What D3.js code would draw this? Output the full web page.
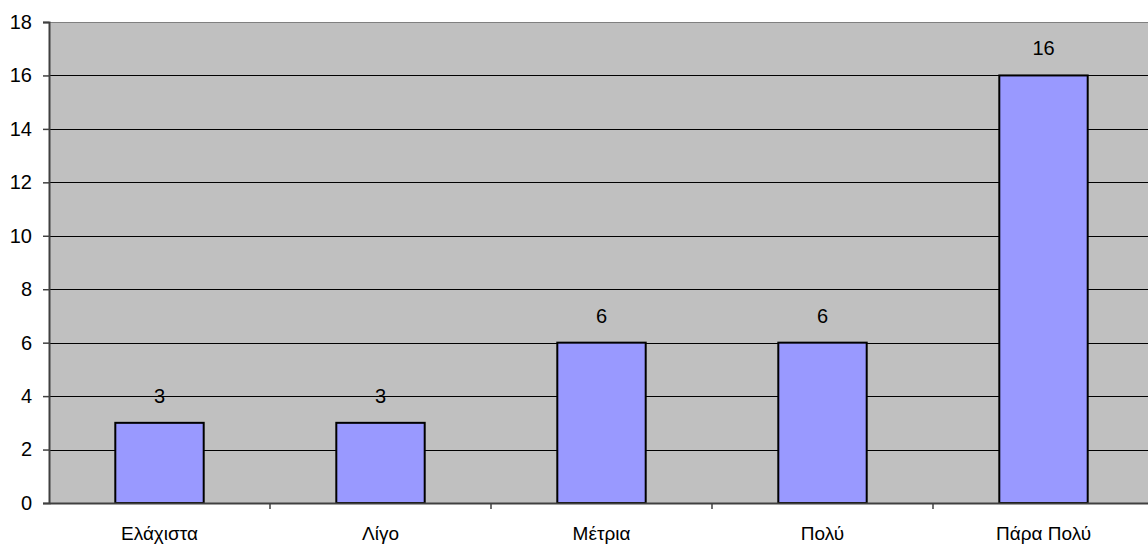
<!DOCTYPE html>
<html>
<head>
<meta charset="utf-8">
<title>Bar Chart</title>
<style>
    body { margin: 0; background: #fff; }
    svg { font-family: "Liberation Sans", Arial, sans-serif; display: block; }
</style>
</head>
<body>
<svg width="1148" height="547"></svg>
<script src="https://d3js.org/d3.v7.min.js"></script>
<script>
    var categories = ["Ελάχιστα", "Λίγο", "Μέτρια", "Πολύ", "Πάρα Πολύ"];
    var values = [3, 3, 6, 6, 16];
    var yTicks = [0, 2, 4, 6, 8, 10, 12, 14, 16, 18];

    var svg = d3.select("svg"),
        margin = {top: 22, right: -6, bottom: 44, left: 49},
        width = +svg.attr("width") - margin.left - margin.right,
        height = +svg.attr("height") - margin.top - margin.bottom;

    var x = d3.scaleBand().domain(categories).range([0, width]).paddingInner(0.6).paddingOuter(0.3);
    var xEdge = d3.scaleBand().domain(categories).range([0, width]);
    var y = d3.scaleLinear().domain([0, 18]).range([height, 0]);

    var g = svg.append("g").attr("transform", "translate(" + margin.left + "," + margin.top + ")");

    // plot background
    g.append("rect")
        .attr("width", width)
        .attr("height", height)
        .attr("fill", "#c0c0c0");

    // gridlines
    g.selectAll(".grid")
        .data(yTicks.filter(function(d) { return d > 0 && d < 18; }))
        .enter().append("line")
        .attr("x1", 0).attr("x2", width)
        .attr("y1", function(d) { return Math.round(y(d)) + 0.5; })
        .attr("y2", function(d) { return Math.round(y(d)) + 0.5; })
        .attr("stroke", "#000")
        .attr("stroke-width", 1);

    // top border
    g.append("line")
        .attr("x1", 0).attr("x2", width)
        .attr("y1", 0.5).attr("y2", 0.5)
        .attr("stroke", "#808080").attr("stroke-width", 1);

    // bars
    g.selectAll(".bar")
        .data(values)
        .enter().append("rect")
        .attr("x", function(d, i) { return x(categories[i]); })
        .attr("y", function(d) { return y(d); })
        .attr("width", x.bandwidth())
        .attr("height", function(d) { return height - y(d); })
        .attr("fill", "#9999ff")
        .attr("stroke", "#000")
        .attr("stroke-width", 2);

    // value labels
    g.selectAll(".val")
        .data(values)
        .enter().append("text")
        .attr("x", function(d, i) { return x(categories[i]) + x.bandwidth() / 2; })
        .attr("y", function(d) { return y(d) - 20; })
        .attr("text-anchor", "middle")
        .attr("font-size", 20)
        .attr("fill", "#000")
        .text(function(d) { return d; });

    // y axis
    var yAxis = g.append("g")
        .call(d3.axisLeft(y).tickValues(yTicks).tickSize(6).tickPadding(11));
    yAxis.select(".domain").attr("stroke", "#404040").attr("stroke-width", 2);
    yAxis.selectAll(".tick line").attr("stroke", "#404040").attr("stroke-width", 1.5);
    yAxis.selectAll(".tick text").attr("font-size", 20).attr("fill", "#000").attr("font-family", "Liberation Sans, Arial, sans-serif");

    // x axis
    var xAxis = g.append("g")
        .attr("transform", "translate(0," + height + ")")
        .call(d3.axisBottom(xEdge).tickSize(0).tickPadding(24));
    xAxis.select(".domain").attr("stroke", "#404040").attr("stroke-width", 2);
    xAxis.selectAll(".tick text").attr("font-size", 19).attr("fill", "#000").attr("font-family", "Liberation Sans, Arial, sans-serif");

    // category separator ticks
    xAxis.selectAll(".sep")
        .data(categories.slice(1))
        .enter().append("line")
        .attr("x1", function(d) { return xEdge(d); })
        .attr("x2", function(d) { return xEdge(d); })
        .attr("y1", 0).attr("y2", 6)
        .attr("stroke", "#404040").attr("stroke-width", 1.5);
</script>
</body>
</html>
